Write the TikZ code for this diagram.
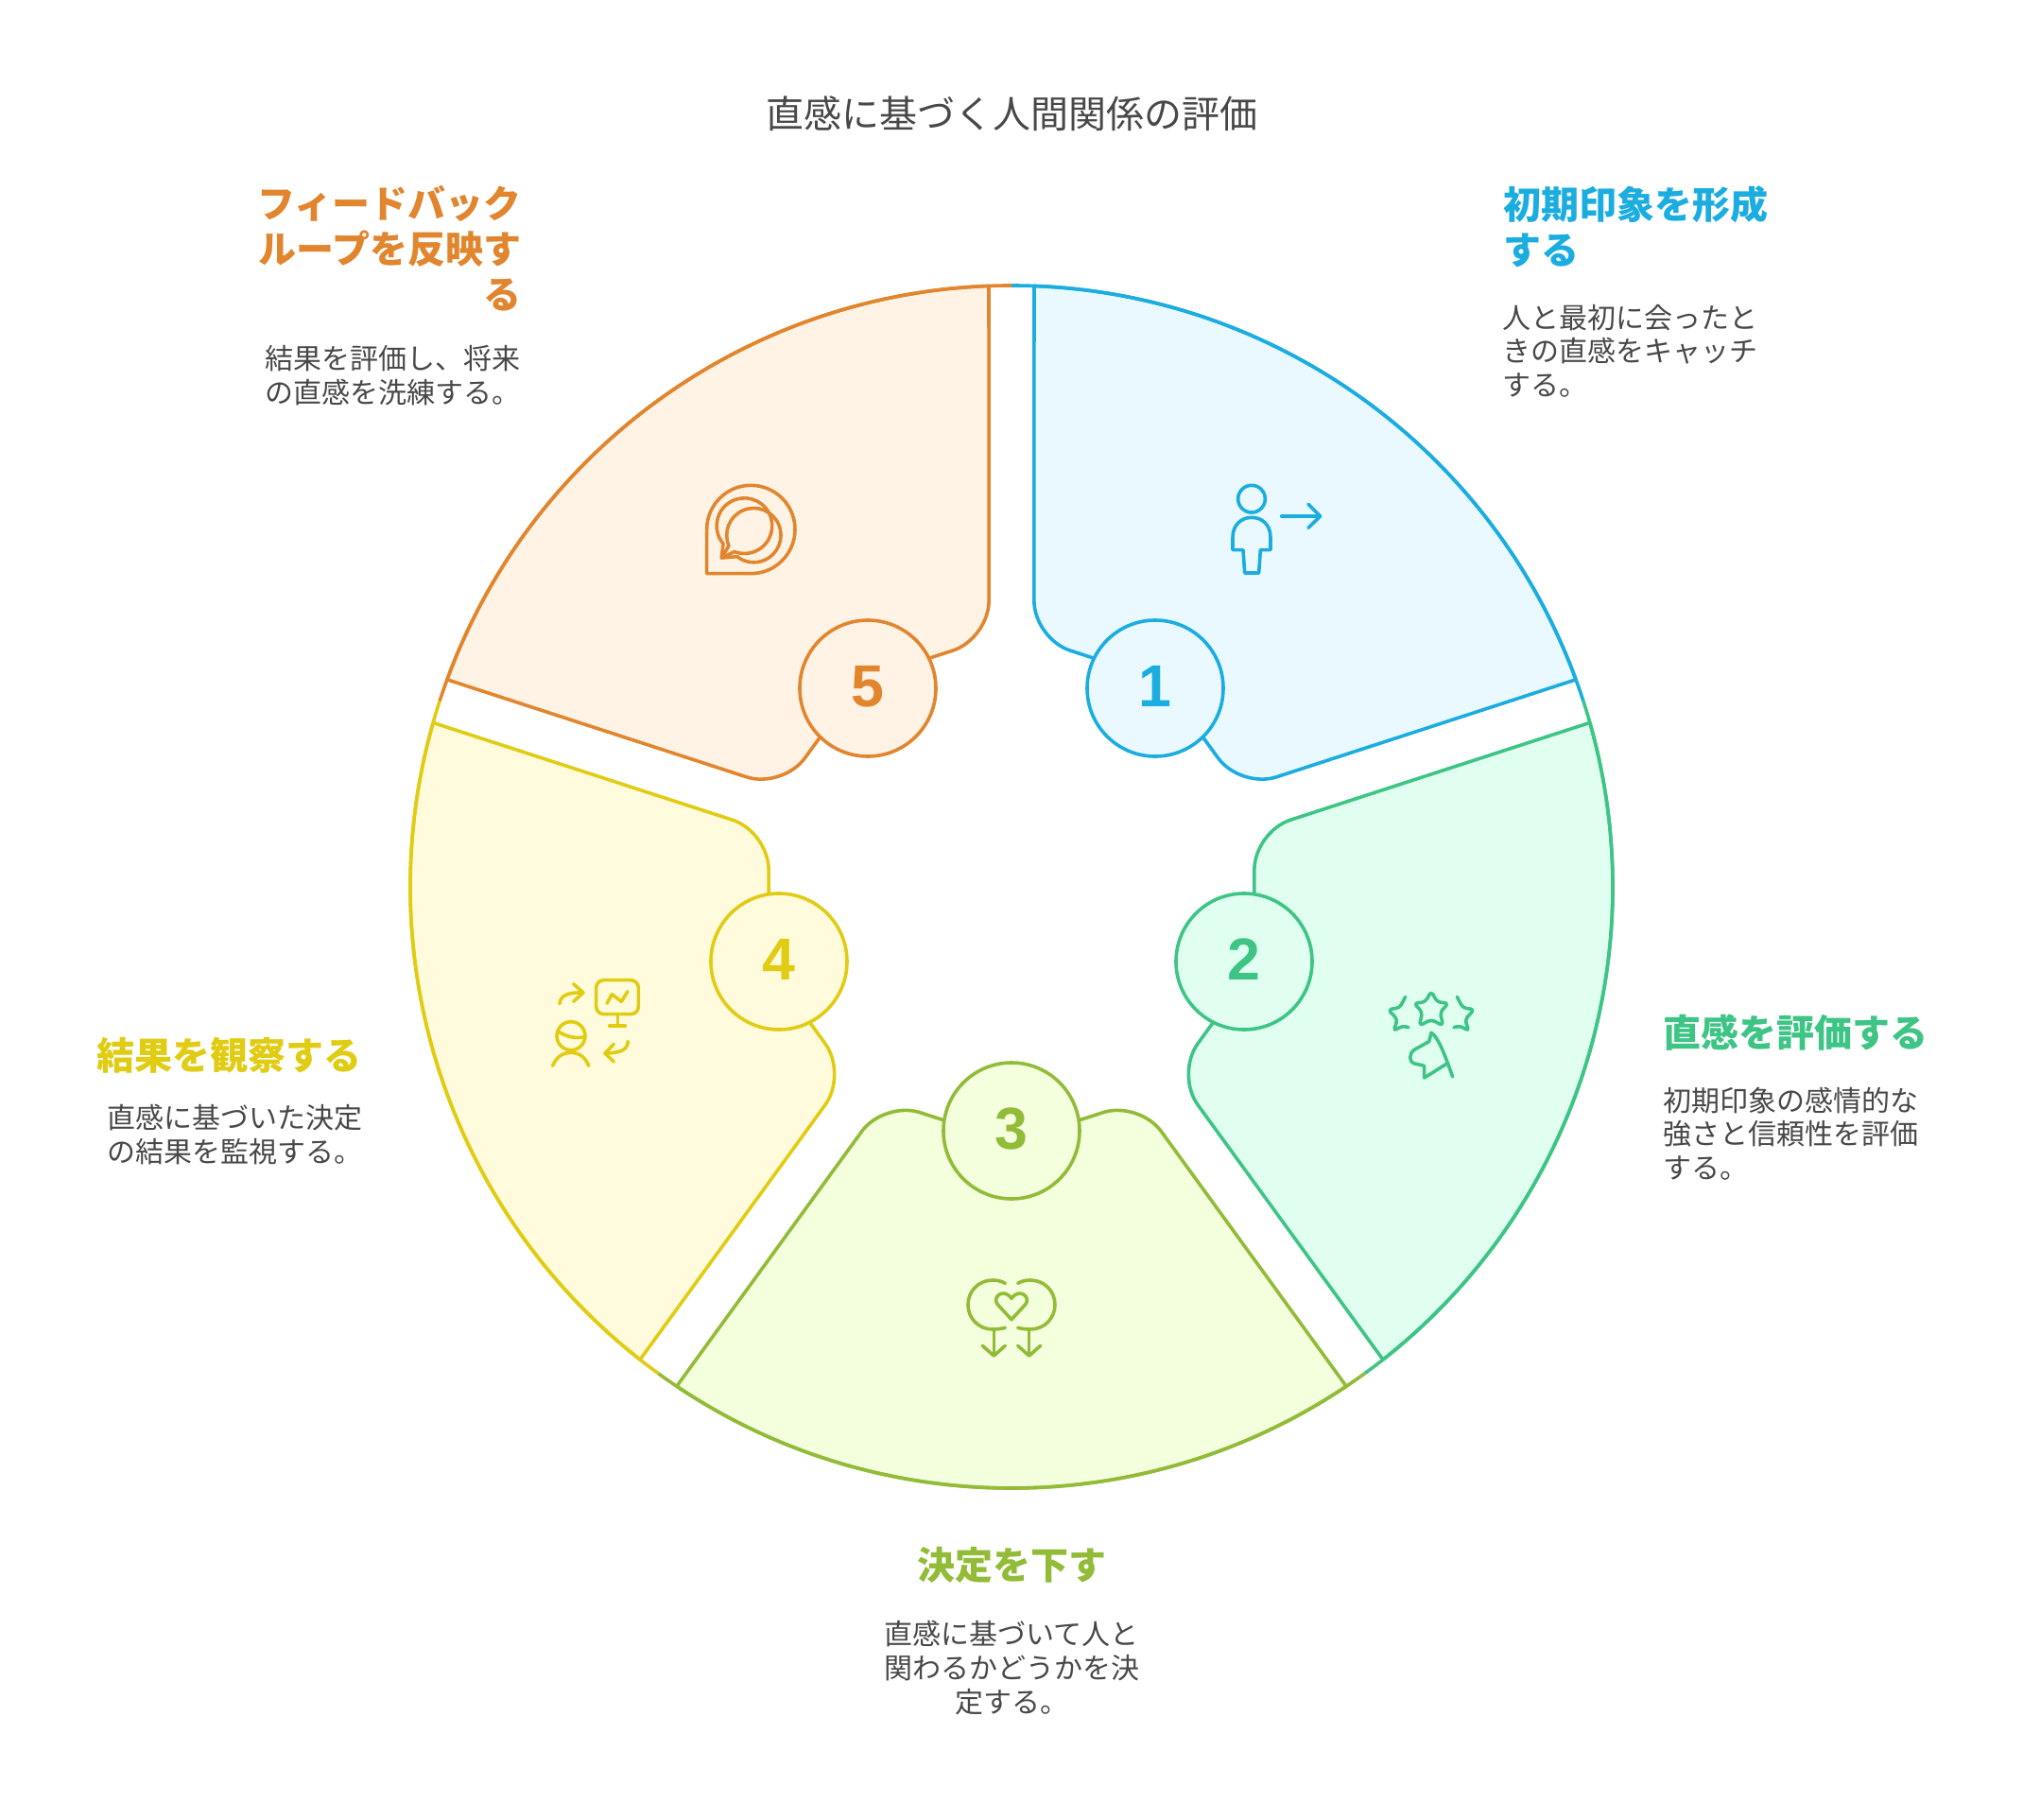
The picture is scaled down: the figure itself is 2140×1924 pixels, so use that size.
\documentclass[tikz,border=0pt]{standalone}
\usepackage{fontspec}
\setmainfont{Noto Sans CJK JP}
\newfontfamily\numfont{Liberation Sans}
\usetikzlibrary{calc}

\definecolor{lineA}{HTML}{1CADE0}
\definecolor{fillA}{HTML}{E9F9FF}
\definecolor{lineB}{HTML}{3EC585}
\definecolor{fillB}{HTML}{E0FFF1}
\definecolor{lineC}{HTML}{92BC38}
\definecolor{fillC}{HTML}{F3FFDD}
\definecolor{lineD}{HTML}{E1CC14}
\definecolor{fillD}{HTML}{FFFBDC}
\definecolor{lineE}{HTML}{E1862E}
\definecolor{fillE}{HTML}{FFF3E5}
\definecolor{txtgray}{HTML}{484848}

\tikzset{
	sec/.style={line width=2.7pt, line join=round},
	num/.style={circle, line width=2.7pt, minimum size=108pt, inner sep=0pt, text depth=3.5pt, font=\numfont\fontsize{47}{47}\selectfont\bfseries},
	capt/.style={text=txtgray, font=\fontsize{30}{36}\selectfont},
	head/.style={font=\fontsize{30}{36}\selectfont\bfseries},
	desc/.style={text=txtgray, font=\fontsize{22.5}{26.7}\selectfont},
	icon/.style={line width=2.7pt, line cap=round, line join=round}
}

% rotation, line colour, fill colour
\newcommand{\petal}[3]{
	\begin{scope}[rotate=#1]
		\filldraw[sec, draw=#2, fill=#3] (87.84:636) [rounded corners=30pt] -- (84.8:263.5) -- (54:270) -- (23.2:263.5) [sharp corners] -- (20.16:636) arc[start angle=20.16, end angle=87.84, radius=636] -- cycle;
		\draw[sec, draw=#2] (18:636) arc[start angle=18, end angle=90, radius=636];
	\end{scope}
}

\begin{document}
\begin{tikzpicture}[x=0.75pt, y=0.75pt]
	\useasboundingbox (-1070,-986) rectangle (1070,938);
	\coordinate (mid) at (0,0);

	\petal{0}{lineA}{fillA}
	\petal{-72}{lineB}{fillB}
	\petal{-144}{lineC}{fillC}
	\petal{-216}{lineD}{fillD}
	\petal{-288}{lineE}{fillE}

	\node[num, draw=lineA, fill=fillA, text=lineA] (n1) at ($(mid)+(152,210)$) {1};
	\node[num, draw=lineB, fill=fillB, text=lineB] (n2) at ($(mid)+(246,-79)$) {2};
	\node[num, draw=lineC, fill=fillC, text=lineC] (n3) at ($(mid)+(0,-258)$) {3};
	\node[num, draw=lineD, fill=fillD, text=lineD] (n4) at ($(mid)+(-246,-79)$) {4};
	\node[num, draw=lineE, fill=fillE, text=lineE] (n5) at ($(mid)+(-152,210)$) {5};

	\node[capt] (ttl) at ($(mid)+(1,818)$) {直感に基づく人間関係の評価};

	\node[head, text=lineA, anchor=west, align=left] (h1) at ($(mid)+(516,698)$) {初期印象を形成\\する};
	\node[desc, anchor=west, align=left] (d1) at ($(mid)+(515,567)$) {人と最初に会ったと\\きの直感をキャッチ\\する。};
	\node[head, text=lineB, anchor=west, align=left] (h2) at ($(mid)+(685,-154)$) {直感を評価する};
	\node[desc, anchor=west, align=left] (d2) at ($(mid)+(685,-261)$) {初期印象の感情的な\\強さと信頼性を評価\\する。};
	\node[head, text=lineC, align=center] (h3) at ($(mid)+(0,-717)$) {決定を下す};
	\node[desc, align=center] (d3) at ($(mid)+(0,-826)$) {直感に基づいて人と\\関わるかどうかを決\\定する。};
	\node[head, text=lineD, anchor=east, align=right] (h4) at ($(mid)+(-683,-178)$) {結果を観察する};
	\node[desc, anchor=east, align=right] (d4) at ($(mid)+(-682,-262)$) {直感に基づいた決定\\の結果を監視する。};
	\node[head, text=lineE, anchor=east, align=right] (h5) at ($(mid)+(-514,675)$) {フィードバック\\ループを反映す\\る};
	\node[desc, anchor=east, align=right] (d5) at ($(mid)+(-515,541)$) {結果を評価し、将来\\の直感を洗練する。};

	%person with arrow
	\begin{scope}[shift={(210,448)}, xscale=1/3, yscale=-1/3, icon, draw=lineA]
		\draw (132,113) circle[radius=43];
		\draw (105,275) -- (72,275) -- (72,235) .. controls (72,195) and (100,172) .. (132,172) .. controls (165,172) and (192,195) .. (192,235) -- (192,275) -- (160,275) -- (155,348) -- (110,348) -- cycle;
		\draw (227,168) -- (348,168);
		\draw (312,130) -- (350,168) -- (312,205);
	\end{scope}

	%stars with flag
	\begin{scope}[shift={(370,-92)}, xscale=1/3, yscale=-1/3, icon, draw=lineB]
		\draw[rounded corners=3pt] (222,55) -- (241,90) -- (277,93) -- (250,122) -- (260,165) -- (222,145) -- (184,165) -- (194,122) -- (167,93) -- (203,90) -- cycle;
		\draw[rounded corners=3pt] (140,73) -- (122,108) -- (85,113) -- (115,145) -- (102,182) -- (130,165) -- (150,170);
		\draw[rounded corners=3pt] (304,73) -- (322,108) -- (359,113) -- (329,145) -- (342,182) -- (314,165) -- (294,170);
		\draw (290,327) .. controls (270,270) and (245,200) .. (222,187) -- (215,215) -- (170,240) .. controls (150,252) and (150,280) .. (170,285) -- (200,292) -- (200,330) -- (275,283);
	\end{scope}

	%two circles and heart
	\begin{scope}[shift={(-110,-362)}, xscale=1/3, yscale=-1/3, icon, draw=lineC]
		\draw (310,172) .. controls (298,165) and (285,162) .. (270,162) .. controls (226,162) and (192,197) .. (192,240) .. controls (192,283) and (226,318) .. (270,318) .. controls (285,318) and (298,316) .. (310,313);
		\draw (350,172) .. controls (362,165) and (375,162) .. (390,162) .. controls (434,162) and (468,197) .. (468,240) .. controls (468,283) and (434,318) .. (390,318) .. controls (375,318) and (362,316) .. (350,313);
		\draw (274,320) -- (274,400);
		\draw (238,370) -- (274,402) -- (310,370);
		\draw (386,320) -- (386,400);
		\draw (350,370) -- (386,402) -- (422,370);
		\draw (330,287) -- (285,238) .. controls (268,215) and (305,185) .. (330,220) .. controls (355,185) and (392,215) .. (375,238) -- cycle;
	\end{scope}

	%person and monitor
	\begin{scope}[shift={(-510,-62)}, xscale=1/3, yscale=-1/3, icon, draw=lineD]
		\draw[rounded corners=6pt] (212,110) rectangle (346,218);
		\draw (280,218) -- (280,255);
		\draw (254,255) -- (304,255);
		\draw (246,184) -- (262,155) -- (292,178) -- (312,146);
		\draw (96,185) .. controls (98,160) and (120,148) .. (170,150);
		\draw (140,122) -- (171,150) -- (140,178);
		\draw (313,304) .. controls (312,330) and (290,342) .. (240,342);
		\draw (268,313) -- (240,342) -- (268,369);
		\draw (132,287) circle[radius=45];
		\draw (90,272) .. controls (110,285) and (140,298) .. (175,290);
		\draw (74,382) .. controls (85,355) and (105,340) .. (132,340) .. controls (158,340) and (178,355) .. (188,382);
	\end{scope}

	%speech bubbles
	\begin{scope}[shift={(-350,448)}, xscale=1/3, yscale=-1/3, icon, draw=lineE]
		\draw (83,210) arc[start angle=180, end angle=450, radius=140] -- (83,350) -- cycle;
		\draw (135,255) arc[start angle=140, end angle=471, radius=88] -- (130,300) -- cycle;
		\draw (153,262) arc[start angle=157, end angle=488, radius=86] -- (130,300) -- cycle;
	\end{scope}
\end{tikzpicture}
\end{document}
